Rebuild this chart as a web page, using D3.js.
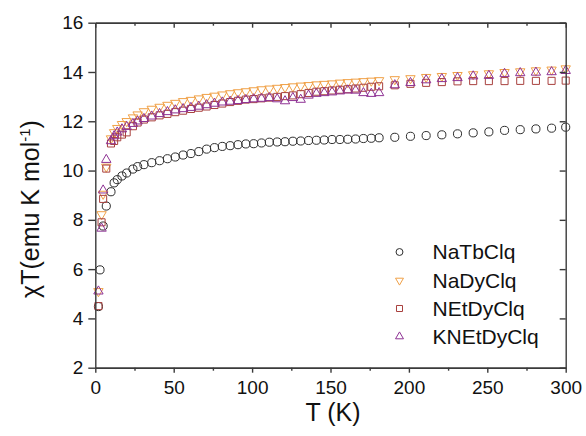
<!DOCTYPE html>
<html>
<head>
<meta charset="utf-8">
<script src="https://cdn.jsdelivr.net/npm/d3@7"></script>
<style>
  html, body { margin: 0; padding: 0; background: #fff; }
  svg { display: block; font-family: "Liberation Sans", Arial, sans-serif; }
</style>
</head>
<body>
<svg id="chart" width="586" height="436"></svg>
<script>
// Temperature grids (K)
const tempTb = [2,3,5,7,10,12,14,17,20,24,27,31,36,41,46,51,56,61,66,71,76,81,86,91,96,101,106,111,116,121,126,131,136,141,146,151,156,161,166,171,176,181,191,201,211,221,231,241,251,261,271,281,291,300];
const tempDy = [2,4,5,7,10,12,14,17,20,24,27,31,36,41,46,51,56,61,66,71,76,81,86,91,96,101,106,111,116,121,126,131,136,141,146,151,156,161,166,171,176,181,191,201,211,221,231,241,251,261,271,281,291,300];

// chiT values (emu K mol^-1)
const naTbClq = [4.48,5.97,7.75,8.56,9.14,9.5,9.63,9.78,9.9,10.06,10.16,10.24,10.32,10.4,10.48,10.55,10.63,10.69,10.77,10.87,10.93,10.98,11.01,11.05,11.08,11.09,11.12,11.15,11.16,11.17,11.19,11.2,11.22,11.23,11.24,11.26,11.26,11.27,11.28,11.3,11.31,11.33,11.35,11.39,11.42,11.45,11.49,11.53,11.57,11.63,11.66,11.69,11.72,11.76];
const naDyClq = [5.1,8.22,9.05,10.15,11.3,11.55,11.72,11.88,12.0,12.15,12.27,12.4,12.5,12.58,12.66,12.74,12.81,12.86,12.92,12.98,13.03,13.08,13.13,13.17,13.21,13.25,13.29,13.32,13.35,13.38,13.41,13.44,13.46,13.49,13.51,13.53,13.56,13.58,13.6,13.62,13.64,13.66,13.7,13.74,13.79,13.83,13.87,13.9,13.94,13.99,14.02,14.06,14.09,14.14];
const nEtDyClq = [4.5,7.9,8.85,10.08,11.1,11.2,11.35,11.46,11.55,11.8,11.95,12.07,12.16,12.24,12.3,12.37,12.43,12.5,12.55,12.6,12.66,12.72,12.78,12.83,12.88,12.9,12.93,12.96,12.99,13.02,13.05,13.1,13.15,13.2,13.22,13.25,13.28,13.3,13.33,13.36,13.4,13.42,13.46,13.52,13.56,13.59,13.62,13.63,13.63,13.63,13.64,13.64,13.64,13.65];
const kNEtDyClq = [5.1,7.65,9.2,10.44,11.2,11.4,11.55,11.68,11.78,11.9,12.0,12.1,12.2,12.3,12.38,12.45,12.5,12.55,12.6,12.66,12.72,12.77,12.8,12.83,12.87,12.9,12.92,12.95,12.9,12.82,12.95,12.88,13.05,13.12,13.15,13.18,13.22,13.26,13.25,13.15,13.12,13.15,13.47,13.56,13.67,13.72,13.76,13.83,13.85,13.93,13.96,13.98,14.0,14.05];

const seriesNames = ["NaTbClq", "NaDyClq", "NEtDyClq", "KNEtDyClq"];
const xTicks = [0, 50, 100, 150, 200, 250, 300];
const yTicks = [2, 4, 6, 8, 10, 12, 14, 16];

const series = [
  { name: seriesNames[0], t: tempTb, v: naTbClq,   shape: "circle", color: "#2e2e2e" },
  { name: seriesNames[1], t: tempDy, v: naDyClq,   shape: "down",   color: "#f0a046" },
  { name: seriesNames[2], t: tempDy, v: nEtDyClq,  shape: "square", color: "#a8403e" },
  { name: seriesNames[3], t: tempDy, v: kNEtDyClq, shape: "up",     color: "#8e3294" }
];

const svg = d3.select("#chart");
const plot = { left: 95.3, right: 565.7, top: 22.7, bottom: 367.7 };

const x = d3.scaleLinear().domain([0, 300]).range([plot.left, plot.right]);
const y = d3.scaleLinear().domain([2, 16]).range([plot.bottom, plot.top]);

const axisColor = "#3a3a3a";

function symbolPath(shape, k) {
  const s = k || 1;
  if (shape === "circle") return d3.symbol(d3.symbolCircle, 52 * s * s)();
  if (shape === "square") return d3.symbol(d3.symbolSquare, 50 * s * s)();
  return d3.symbol(d3.symbolTriangle, 38 * s * s)();
}

// data markers
series.forEach(s => {
  const pts = s.t.map((t, i) => ({ t, v: s.v[i] }));
  svg.append("g")
    .selectAll("path")
    .data(pts)
    .join("path")
    .attr("d", symbolPath(s.shape))
    .attr("transform", d => `translate(${x(d.t)},${y(d.v)})` + (s.shape === "down" ? " rotate(180)" : ""))
    .attr("fill", "none")
    .attr("stroke", s.color)
    .attr("stroke-width", 1);
});

// axes
function styleAxis(g) {
  g.select(".domain").attr("stroke", axisColor).attr("stroke-width", 1.4);
  g.selectAll(".tick line").attr("stroke", axisColor).attr("stroke-width", 1.4);
  g.selectAll(".tick text").attr("fill", "#111").style("font-size", "19px")
    .style("font-family", "'Liberation Sans', Arial, sans-serif");
}

const xMinor = d3.range(25, 300, 50);

// bottom
svg.append("g").attr("transform", `translate(0,${plot.bottom})`)
  .call(d3.axisBottom(x).tickValues(xTicks).tickSize(5).tickPadding(8).tickSizeOuter(0))
  .call(styleAxis);
svg.append("g").attr("transform", `translate(0,${plot.bottom})`)
  .call(d3.axisBottom(x).tickValues(xMinor).tickSize(3).tickFormat("").tickSizeOuter(0))
  .call(styleAxis);

// top (inward ticks)
svg.append("g").attr("transform", `translate(0,${plot.top})`)
  .call(d3.axisBottom(x).tickValues(xTicks).tickSize(5).tickFormat("").tickSizeOuter(0))
  .call(styleAxis);
svg.append("g").attr("transform", `translate(0,${plot.top})`)
  .call(d3.axisBottom(x).tickValues(xMinor).tickSize(3).tickFormat("").tickSizeOuter(0))
  .call(styleAxis);

// left
svg.append("g").attr("transform", `translate(${plot.left},0)`)
  .call(d3.axisLeft(y).tickValues(yTicks).tickSize(7).tickPadding(5).tickSizeOuter(0))
  .call(styleAxis);

// right (inward ticks)
svg.append("g").attr("transform", `translate(${plot.right},0)`)
  .call(d3.axisLeft(y).tickValues(yTicks).tickSize(6).tickFormat("").tickSizeOuter(0))
  .call(styleAxis);

// axis titles
svg.append("text")
  .attr("x", 333).attr("y", 421)
  .attr("text-anchor", "middle")
  .style("font-size", "25px").attr("fill", "#111")
  .text("T (K)");

const yTitle = svg.append("text")
  .attr("transform", "translate(39,209) rotate(-90)")
  .attr("text-anchor", "middle")
  .style("font-size", "25px").attr("fill", "#111");
yTitle.append("tspan").text("\u03C7T(emu K mol");
yTitle.append("tspan").attr("dy", -9).style("font-size", "15px").text("-1");
yTitle.append("tspan").attr("dy", 9).text(")");

// legend
const legend = svg.append("g");
const legendRows = [252, 280.5, 308.5, 336.5];
series.forEach((s, i) => {
  legend.append("path")
    .attr("d", symbolPath(s.shape, 0.85))
    .attr("transform", `translate(399.5,${legendRows[i]})` + (s.shape === "down" ? " rotate(180)" : ""))
    .attr("fill", "none").attr("stroke", s.color).attr("stroke-width", 1);
  legend.append("text")
    .attr("x", 432.5).attr("y", legendRows[i] + 7)
    .style("font-size", "21px").attr("fill", "#111")
    .text(s.name);
});
</script>
</body>
</html>
